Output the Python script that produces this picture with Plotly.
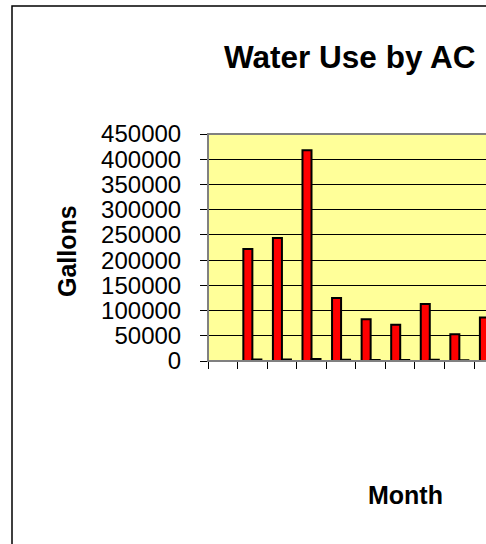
import plotly.graph_objects as go

categories = ["C1", "C2", "C3", "C4", "C5", "C6", "C7", "C8", "C9", "C10"]
series_a = [None, 222000, 244000, 418000, 125000, 83000, 72000, 113000, 53000, 86000]
series_b = [None, 3000, 3000, 4000, 2500, 2000, 2000, 2500, 1500, 2000]
y_ticks = [0, 50000, 100000, 150000, 200000, 250000, 300000, 350000, 400000, 450000]

FONT = "Liberation Sans, Arial, sans-serif"

fig = go.Figure()
fig.add_trace(go.Bar(x=categories, y=series_a, marker=dict(color="#FF0000", line=dict(color="#000000", width=2)), name="A"))
fig.add_trace(go.Bar(x=categories, y=series_b, marker=dict(color="#000000", line=dict(color="#000000", width=2)), name="B"))

L, R, T, B = 208, 0, 134, 183
W, H = 486, 544
pw, ph = W - L - R, H - T - B

def px(x):
    return (x - L) / pw

def py(y):
    return (H - B - y) / ph

fig.update_layout(
    width=W, height=H,
    margin=dict(l=L, r=R, t=T, b=B, pad=0),
    paper_bgcolor="white",
    plot_bgcolor="#FFFF99",
    showlegend=False,
    barmode="group",
    bargap=0.39,
    bargroupgap=0,
    font=dict(family=FONT, color="black"),
    xaxis=dict(
        type="category", categoryarray=categories,
        range=[-0.5, -0.5 + pw / 29.57],
        showticklabels=False, ticks="outside", tickson="boundaries",
        ticklen=7, tickcolor="black", tickwidth=1,
        showline=True, linecolor="black", linewidth=1,
        showgrid=False, zeroline=False,
    ),
    yaxis=dict(
        range=[0, 450000], tickvals=y_ticks, ticktext=[str(v) for v in y_ticks],
        ticks="outside", ticklen=7, tickcolor="black", tickwidth=1,
        tickfont=dict(size=24, family=FONT, color="black"),
        ticklabelstandoff=14,
        showline=True, linecolor="black", linewidth=1,
        showgrid=True, gridcolor="black", gridwidth=1,
        zeroline=False,
    ),
    shapes=[
        dict(type="rect", xref="paper", yref="paper", x0=0, x1=1.05, y0=0, y1=1,
             line=dict(color="#808080", width=2), fillcolor="rgba(0,0,0,0)", layer="above"),
        dict(type="rect", xref="paper", yref="paper", x0=px(12), x1=px(600), y0=py(700), y1=py(6),
             line=dict(color="black", width=1.5), fillcolor="rgba(0,0,0,0)"),
    ],
    annotations=[
        dict(text="<b>Water Use by AC</b>", xref="paper", yref="paper", x=px(349), y=py(57),
             xanchor="center", yanchor="middle", showarrow=False, font=dict(size=31.5, family=FONT, color="black")),
        dict(text="<b>Month</b>", xref="paper", yref="paper", x=px(405), y=py(495),
             xanchor="center", yanchor="middle", showarrow=False, font=dict(size=25, family=FONT, color="black")),
        dict(text="<b>Gallons</b>", xref="paper", yref="paper", x=px(67), y=py(251), textangle=-90,
             xanchor="center", yanchor="middle", showarrow=False, font=dict(size=25, family=FONT, color="black")),
    ],
)

fig.write_html(
    "out.html",
    config=dict(displayModeBar=False),
    post_script="document.body.style.margin='0';document.body.style.overflow='hidden';",
)
